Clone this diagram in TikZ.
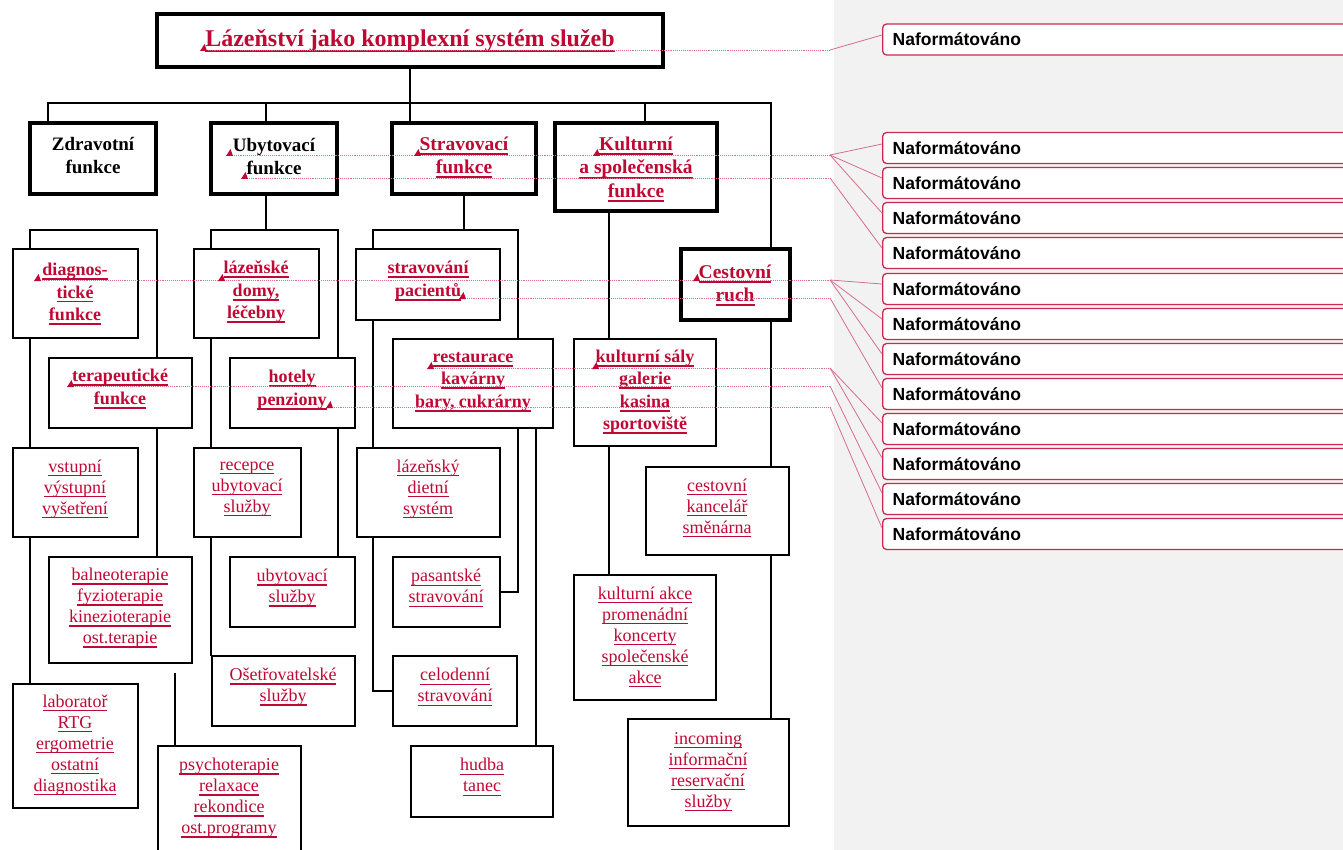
\documentclass[tikz,border=0pt]{standalone}
\usepackage{fontspec}
\setmainfont{Liberation Serif}
\newfontfamily\nafont{Liberation Sans}
\definecolor{tred}{RGB}{192,8,52}
\definecolor{cred}{RGB}{204,40,80}
\definecolor{cline}{RGB}{214,110,140}
\definecolor{panel}{RGB}{242,242,242}
\newdimen\ulth \ulth=1pt
\newdimen\uldp \uldp=2.5pt
\newcommand\ulx[1]{\leavevmode\setbox0=\hbox{#1}\rlap{\lower\uldp\hbox{\vrule width\wd0 height0pt depth\ulth}}\box0}
\newcommand\ulset[2]{\global\ulth=#1\global\uldp=#2}
% box: name, x1, y1, x2, y2, line width (pt)
\newcommand\bxx[6]{%
  \node[draw, line width=#6pt, inner sep=0pt, outer sep=0pt,
        minimum width={#4-#2-#6}, minimum height={#5-#3-#6}]
        (#1) at ({(#2+#4)/2},{(#3+#5)/2}) {};}
\tikzset{
  ln/.style={line width=1.8pt},
  lnthick/.style={line width=2.2pt},
  txt/.style={align=center, text=tred, inner sep=0pt, yshift=-2pt,
    font=\fontsize{18}{21}\selectfont},
  btxt/.style={align=center, text=tred, inner sep=0pt, yshift=-2pt,
    font=\fontsize{18}{22.5}\selectfont\bfseries},
  ltxt/.style={align=center, text=tred, inner sep=0pt, yshift=-2.5pt,
    font=\fontsize{19.5}{23.5}\selectfont\bfseries},
  ktxt/.style={align=center, text=black, inner sep=0pt, yshift=-2pt,
    font=\fontsize{19}{23}\selectfont\bfseries},
  ttxt/.style={align=center, text=tred, inner sep=0pt, yshift=-1pt,
    font=\fontsize{24}{28}\selectfont\bfseries},
  cbox/.style={draw=cred, line width=1.3pt, fill=white, rounded corners=4pt,
    anchor=west, minimum height=31pt, text width=470pt, inner xsep=10pt,
    align=left, font=\nafont\fontsize{17.5}{20}\selectfont\bfseries},
  cdot/.style={draw=cline, line width=0.9pt, densely dotted},
  cdiag/.style={draw=cline, line width=0.8pt},
  mk/.style={fill=tred}
}
\begin{document}
\begin{tikzpicture}[x=1pt,y=-1pt]
\useasboundingbox (0,0) rectangle (1343,850);
\fill[white] (0,0) rectangle (834,850);
\fill[panel] (834,0) rectangle (1343,850);

% ---- boxes ----
\bxx{tit}{155}{12}{665}{69}{4}
\bxx{zd}{28}{121}{158}{196}{4}
\bxx{ub}{209}{121}{339}{196}{4}
\bxx{st}{390}{121}{538}{196}{4}
\bxx{ku}{553}{121}{719}{213}{4}
\bxx{ce}{679}{247}{792}{322}{4}

\bxx{dg}{12}{248}{139}{339}{2}
\bxx{te}{48}{357}{193}{429}{2}
\bxx{la}{193}{248}{320}{339}{2}
\bxx{ho}{229}{357}{356}{429}{2}
\bxx{sp}{355}{248}{501}{321}{2}
\bxx{re}{392}{338}{554}{429}{2}
\bxx{ks}{573}{338}{717}{447}{2}

\bxx{vs}{12}{447}{139}{538}{1.8}
\bxx{ba}{48}{556}{193}{664}{1.8}
\bxx{lb}{12}{683}{139}{809}{1.8}
\bxx{ps}{157}{745}{302}{872}{1.8}
\bxx{rc}{193}{447}{302}{538}{1.8}
\bxx{us}{229}{556}{356}{628}{1.8}
\bxx{os}{211}{655}{356}{727}{1.8}
\bxx{ld}{356}{447}{501}{538}{1.8}
\bxx{pa}{392}{556}{501}{628}{1.8}
\bxx{cd}{392}{655}{518}{727}{1.8}
\bxx{hu}{410}{745}{554}{818}{1.8}
\bxx{ka}{573}{574}{717}{701}{1.8}
\bxx{ck}{645}{466}{790}{556}{1.8}
\bxx{in}{627}{718}{790}{827}{1.8}

% ---- texts ----
\ulset{2.4pt}{3pt}
\node[ttxt] (ttit) at (410,40) {\ulx{Lázeňství jako komplexní systém služeb}};
\node[ktxt] (tzd) at (93,154) {Zdravotní\\funkce};
\node[ktxt] (tub) at (274,155) {Ubytovací\\funkce};
\ulset{2pt}{2.8pt}
\node[ltxt] (tst) at (464,155) {\ulx{Stravovací}\\\ulx{funkce}};
\node[ltxt] (tku) at (636,167) {\ulx{Kulturní}\\\ulx{a společenská}\\\ulx{funkce}};
\node[ltxt] (tce) at (735,283) {\ulx{Cestovní}\\\ulx{ruch}};

\ulset{1.8pt}{2.6pt}
\node[btxt] (tdg) at (75,292) {\ulx{diagnos-}\\\ulx{tické}\\\ulx{funkce}};
\node[btxt] (tte) at (120,387) {\ulx{terapeutické}\\\ulx{funkce}};
\node[btxt] (tla) at (256,290) {\ulx{lázeňské}\\\ulx{domy,}\\\ulx{léčebny}};
\node[btxt] (tho) at (292,388) {\ulx{hotely}\\\ulx{penziony}};
\node[btxt] (tsp) at (428,279) {\ulx{stravování}\\\ulx{pacientů}};
\node[btxt] (tre) at (473,380) {\ulx{restaurace}\\\ulx{kavárny}\\\ulx{bary, cukrárny}};
\node[btxt] (tks) at (645,390) {\ulx{kulturní sály}\\\ulx{galerie}\\\ulx{kasina}\\\ulx{sportoviště}};

\ulset{1.1pt}{2.6pt}
\node[txt] (tvs) at (75,487) {\ulx{vstupní}\\\ulx{výstupní}\\\ulx{vyšetření}};
\node[txt] (tba) at (120,606) {\ulx{balneoterapie}\\\ulx{fyzioterapie}\\\ulx{kinezioterapie}\\\ulx{ost.terapie}};
\node[txt] (tlb) at (75,743) {\ulx{laboratoř}\\\ulx{RTG}\\\ulx{ergometrie}\\\ulx{ostatní}\\\ulx{diagnostika}};
\node[txt] (tps) at (229,796) {\ulx{psychoterapie}\\\ulx{relaxace}\\\ulx{rekondice}\\\ulx{ost.programy}};
\node[txt] (trc) at (247,487) {\ulx{recepce}\\\ulx{ubytovací}\\\ulx{služby}};
\node[txt] (tus) at (292,586) {\ulx{ubytovací}\\\ulx{služby}};
\node[txt] (tos) at (283,685) {\ulx{Ošetřovatelské}\\\ulx{služby}};
\node[txt] (tld) at (428,487) {\ulx{lázeňský}\\\ulx{dietní}\\\ulx{systém}};
\node[txt] (tpa) at (446,586) {\ulx{pasantské}\\\ulx{stravování}};
\node[txt] (tcd) at (455,685) {\ulx{celodenní}\\\ulx{stravování}};
\node[txt] (thu) at (482,775) {\ulx{hudba}\\\ulx{tanec}};
\node[txt] (tka) at (645,635) {\ulx{kulturní akce}\\\ulx{promenádní}\\\ulx{koncerty}\\\ulx{společenské}\\\ulx{akce}};
\node[txt] (tck) at (717,506) {\ulx{cestovní}\\\ulx{kancelář}\\\ulx{směnárna}};
\node[txt] (tin) at (708,770) {\ulx{incoming}\\\ulx{informační}\\\ulx{reservační}\\\ulx{služby}};

% ---- tree connectors ----
\coordinate (barL) at (48,103);
\coordinate (barR) at (771,103);
\coordinate (dUb) at (266,103);
\coordinate (dKu) at (645,103);
\draw[ln] (tit.south) -- (tit.south |- st.north);
\draw[ln] (barL |- zd.north) -- (barL) -- (barR) -- (barR |- ce.north);
\draw[ln] (dUb) -- (dUb |- ub.north);
\draw[ln] (dKu) -- (dKu |- ku.north);

\coordinate (zL) at (30,230);
\coordinate (zR) at (157,230);
\draw[ln] (zL |- dg.north) -- (zL) -- (zR) -- (zR |- te.north);
\draw[ln] (zL |- dg.south) -- (zL |- vs.north);
\draw[ln] (zL |- vs.south) -- (zL |- lb.north);
\draw[ln] (zR |- te.south) -- (zR |- ba.north);
\coordinate (pT) at (175,673);
\draw[ln] (pT) -- (pT |- ps.north);

\coordinate (uL) at (211,230);
\coordinate (uR) at (338,230);
\draw[ln] (dUb |- ub.south) -- (dUb |- uL);
\draw[ln] (uL |- la.north) -- (uL) -- (uR) -- (uR |- ho.north);
\draw[ln] (uL |- la.south) -- (uL |- rc.north);
\draw[ln] (uL |- rc.south) -- (uL |- os.north);
\draw[ln] (uR |- ho.south) -- (uR |- us.north);

\coordinate (sL) at (373,230);
\coordinate (sR) at (518,230);
\coordinate (sH) at (536,230);
\draw[ln] (st.south) -- (st.south |- sL);
\draw[ln] (sL |- sp.north) -- (sL) -- (sR) -- (sR |- re.north);
\draw[ln] (sL |- sp.south) -- (sL |- ld.north);
\draw[ln] (sL |- ld.south) -- (sL |- cd.west) -- (cd.west);
\draw[ln] (sR |- re.south) -- (sR |- pa.east) -- (pa.east);
\draw[ln] (sH |- re.south) -- (sH |- hu.north);

\coordinate (kX) at (609,230);
\draw[ln] (kX |- ku.south) -- (kX |- ks.north);
\draw[ln] (kX |- ks.south) -- (kX |- ka.north);

\draw[lnthick] (barR |- ce.south) -- (barR |- ck.north);
\draw[ln] (barR |- ck.south) -- (barR |- in.north);

% ---- comment balloons ----
\begin{scope}
\clip (0,0) rectangle (1343,850);
\foreach \i/\y in {1/39.5,2/148,3/183,4/218,5/253,6/289,7/324,8/359,9/394,10/429,11/464,12/499,13/534}
  \node[cbox] (c\i) at (882,\y) {Naformátováno};
\end{scope}

% ---- change markers and comment links ----
\coordinate (m1) at (204,50);
\coordinate (m2) at (230,155);
\coordinate (m3) at (245,178);
\coordinate (m4) at (38,280);
\coordinate (m5) at (463,298);
\coordinate (m6) at (431,368);
\coordinate (m7) at (71,386);
\coordinate (m8) at (330,407);
\foreach \j in {1,...,8} \coordinate (k\j) at (830,0 |- m\j);

\draw[cdot] (m1) -- (k1); \draw[cdiag] (k1) -- ([yshift=4.5pt]c1.west);
\draw[cdot] (m2) -- (k2);
\draw[cdiag] (k2) -- ([yshift=4pt]c2.west);
\draw[cdiag] (k2) -- ([yshift=5pt]c3.west);
\draw[cdiag] (k2) -- ([yshift=5pt]c4.west);
\draw[cdot] (m3) -- (k3); \draw[cdiag] (k3) -- ([yshift=5pt]c5.west);
\draw[cdot] (m4) -- (k4);
\draw[cdiag] (k4) -- ([yshift=5pt]c6.west);
\draw[cdiag] (k4) -- ([yshift=5pt]c7.west);
\draw[cdiag] (k4) -- ([yshift=5pt]c8.west);
\draw[cdot] (m5) -- (k5); \draw[cdiag] (k5) -- ([yshift=6pt]c9.west);
\draw[cdot] (m6) -- (k6);
\draw[cdiag] (k6) -- ([yshift=6pt]c10.west);
\draw[cdiag] (k6) -- ([yshift=6pt]c11.west);
\draw[cdot] (m7) -- (k7); \draw[cdiag] (k7) -- ([yshift=6pt]c12.west);
\draw[cdot] (m8) -- (k8); \draw[cdiag] (k8) -- ([yshift=6pt]c13.west);

\foreach \p in {(204,50),(230,155),(245,178),(418,155),(597,155),(38,280),(222,280),(697,280),(463,298),(71,386),(330,407),(431,368),(596,368)}
  \fill[mk] \p ++(-4,1) -- ++(7,0) -- ++(-2.5,-7) -- cycle;
\end{tikzpicture}
\end{document}
